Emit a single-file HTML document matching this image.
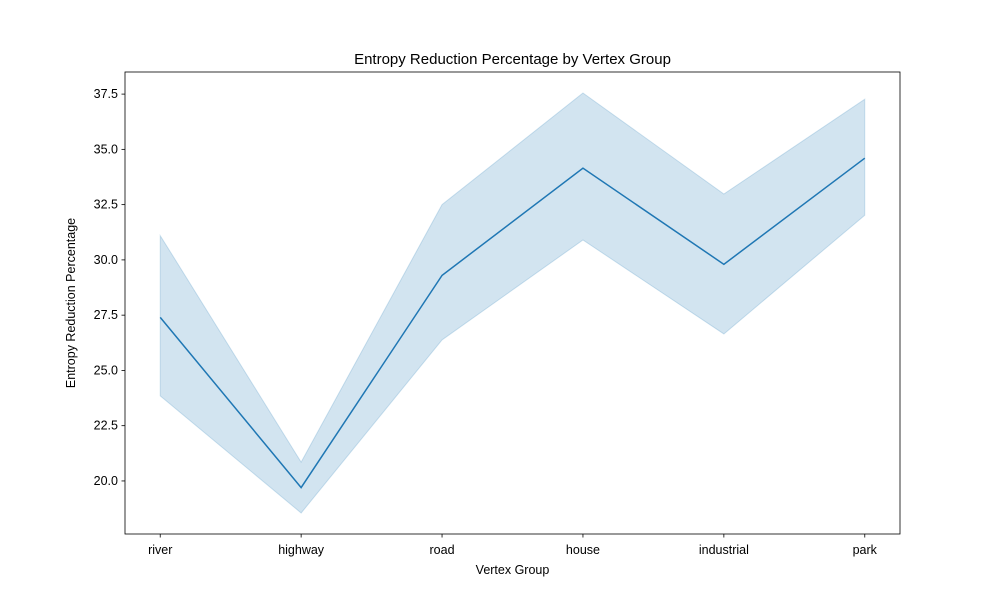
<!DOCTYPE html>
<html><head><meta charset="utf-8"><style>
body{margin:0;background:#fff;}
svg{display:block;font-family:"Liberation Sans","DejaVu Sans",sans-serif;}
</style></head><body>
<svg id="chart" width="1000" height="600">
<rect width="1000" height="600" fill="#fff"/>
<g id="plot"></g>
</svg>
<script>
const categories=["river","highway","road","house","industrial","park"];
const meanValues=[27.4,19.7,29.3,34.15,29.8,34.6];
const upperValues=[31.1,20.85,32.5,37.55,32.98,37.27];
const lowerValues=[23.85,18.55,26.38,30.9,26.65,32.02];
const yTicks=[20.0,22.5,25.0,27.5,30.0,32.5,35.0,37.5];

const L=125,R=900,T=72,B=534;
const yMin=17.6,yMax=38.5;
const NS="http://www.w3.org/2000/svg";
const g=document.getElementById('plot');
function x(i){return L+(i+0.25)/(categories.length-0.5)*(R-L);}
function y(v){return B-(v-yMin)/(yMax-yMin)*(B-T);}
function el(t,a,txt){const e=document.createElementNS(NS,t);for(const k in a)e.setAttribute(k,a[k]);if(txt!==undefined)e.textContent=txt;g.appendChild(e);return e;}

let pts=upperValues.map((v,i)=>x(i)+','+y(v));
for(let i=lowerValues.length-1;i>=0;i--)pts.push(x(i)+','+y(lowerValues[i]));
const band=el('polygon',{points:pts.join(' '),fill:'#1f77b4','fill-opacity':0.2,stroke:'#1f77b4','stroke-opacity':0.2});


const line=el('polyline',{points:meanValues.map((v,i)=>x(i)+','+y(v)).join(' '),fill:'none',stroke:'#1f77b4','stroke-width':1.5});



const frame=el('rect',{x:L,y:T,width:R-L,height:B-T,fill:'none',stroke:'#000','stroke-width':0.8});



yTicks.forEach(v=>{
  el('line',{x1:L-3.5,x2:L,y1:y(v),y2:y(v),stroke:'#000','stroke-width':0.8});
  const t=el('text',{x:L-7,y:y(v)+4,'text-anchor':'end','font-size':12.5,fill:'#000'},v.toFixed(1));
  
  
});
categories.forEach((c,i)=>{
  el('line',{x1:x(i),x2:x(i),y1:B,y2:B+3.5,stroke:'#000','stroke-width':0.8});
  const t=el('text',{x:x(i),y:B+20,'text-anchor':'middle','font-size':12.5,fill:'#000'},c);
  
  
});
const title=el('text',{x:(L+R)/2,y:64,'text-anchor':'middle','font-size':15,fill:'#000'},'Entropy Reduction Percentage by Vertex Group');


const xl=el('text',{x:(L+R)/2,y:574,'text-anchor':'middle','font-size':12.5,fill:'#000'},'Vertex Group');


const yl=el('text',{x:0,y:0,'text-anchor':'middle','font-size':12.5,fill:'#000',transform:'translate(75,303) rotate(-90)'},'Entropy Reduction Percentage');


</script>
</body></html>
